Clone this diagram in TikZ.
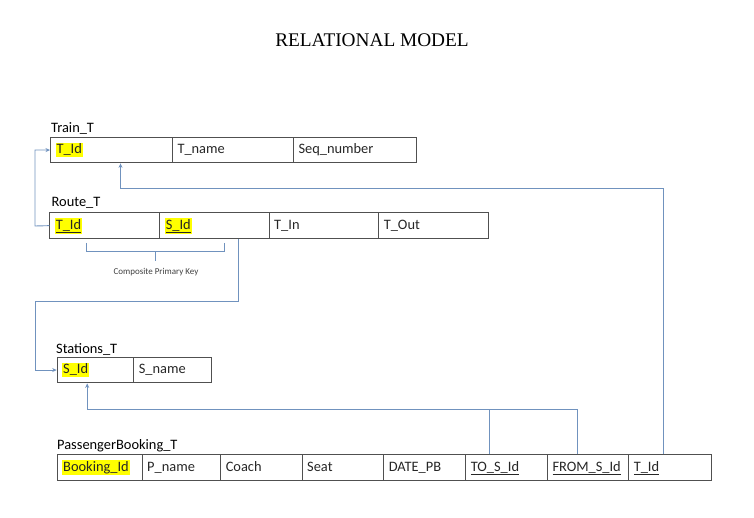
\documentclass[tikz,border=0pt]{standalone}
\usepackage{fontspec}
\setmainfont{Carlito}
\newfontfamily\titlefont{Liberation Serif}
\usetikzlibrary{arrows.meta}
\definecolor{tablegray}{RGB}{80,80,80}
\definecolor{linkblue}{RGB}{112,146,190}
\definecolor{hlyellow}{RGB}{255,255,0}
\newcommand\hlt[1]{{\setlength{\fboxsep}{1pt}\colorbox{hlyellow}{#1}}}
\begin{document}
\begin{tikzpicture}[x=1pt,y=-1pt,
  cell/.style={draw=tablegray, line width=1pt, anchor=north west,
    minimum height=25.7pt, inner xsep=5pt, inner ysep=0pt,
    text height=10pt, text depth=2.8pt, align=left,
    font=\fontsize{14.4}{16}\selectfont, text=black!85},
  tname/.style={anchor=west, inner sep=0pt, font=\fontsize{14.4}{16}\selectfont},
  conn/.style={draw=linkblue, line width=0.9pt},
  arr/.style={-{Stealth[length=4.5pt,width=4pt]}}]
\useasboundingbox (0,0) rectangle (754,518);

\node[anchor=center, inner sep=0pt, font=\titlefont\fontsize{19.3}{22}\selectfont] (title) at (372,40) {RELATIONAL MODEL};

% Train_T
\node[tname] (lTrain) at (51,129) {Train\_T};
\node[cell, text width=112pt] (tt1) at (50,136.7) {\hlt{T\_Id}};
\node[cell, text width=111pt] (tt2) at (172,136.7) {T\_name};
\node[cell, text width=112.7pt] (tt3) at (293,136.7) {Seq\_number};

% Route_T
\node[tname] (lRoute) at (51.5,203) {Route\_T};
\node[cell, text width=100pt] (rt1) at (49.3,212.3) {\hlt{\underline{T\_Id}}};
\node[cell, text width=99.4pt] (rs2) at (159.3,212.3) {\hlt{\underline{S\_Id}}};
\node[cell, text width=99.6pt] (rt3) at (268.7,212.3) {T\_In};
\node[cell, text width=99.7pt] (rt4) at (378.3,212.3) {T\_Out};

% Stations_T
\node[tname] (lStations) at (56,349) {Stations\_T};
\node[cell, text width=66.6pt] (st1) at (56.7,356.7) {\hlt{S\_Id}};
\node[cell, text width=67.4pt] (st2) at (133.3,356.7) {S\_name};

% PassengerBooking_T
\node[tname] (lPB) at (57,446) {PassengerBooking\_T};
\node[cell, text width=75pt] (pb1) at (56.7,454.3) {\hlt{Booking\_Id}};
\node[cell, text width=68.6pt] (pb2) at (141.7,454.3) {P\_name};
\node[cell, text width=71.4pt] (pb3) at (220.3,454.3) {Coach};
\node[cell, text width=71.6pt] (pb4) at (301.7,454.3) {Seat};
\node[cell, text width=72pt] (pb5) at (383.3,454.3) {DATE\_PB};
\node[cell, text width=71.7pt] (pb6) at (465.3,454.3) {\underline{TO\_S\_Id}};
\node[cell, text width=71.3pt] (pb7) at (547,454.3) {\underline{FROM\_S\_Id}};
\node[cell, text width=72.4pt] (pb8) at (628.3,454.3) {\underline{T\_Id}};

% composite key brace
\coordinate (bA) at (86.7,243);
\coordinate (bB) at (224,243);
\draw[conn, line width=0.7pt] (bA) -- (86.7,251) -- (155.3,251) -- (155.3,261);
\draw[conn, line width=0.7pt] (bB) -- (224,251) -- (155.3,251);
\node[inner sep=0pt, font=\fontsize{9}{10}\selectfont, text=black!75] (ck) at (156,272.5) {Composite Primary Key};

% connectors
\coordinate (k1) at (35,226);
\draw[conn, arr] (rt1.west) -- (k1) |- (tt1.west);

\coordinate (k2) at (35,301.7);
\draw[conn, arr] ([xshift=24pt]rs2.south) |- (k2) |- (st1.west);

\draw[conn, arr] ([xshift=-11pt]pb7.north) -- ++(0,-45) -| ([xshift=-8.3pt]st1.south);
\draw[conn] ([xshift=-17.5pt]pb6.north) -- ++(0,-45);

\draw[conn, arr] ([xshift=-6.2pt]pb8.north) -- ++(0,-265.8) -| ([xshift=9pt]tt1.south);
\end{tikzpicture}
\end{document}
